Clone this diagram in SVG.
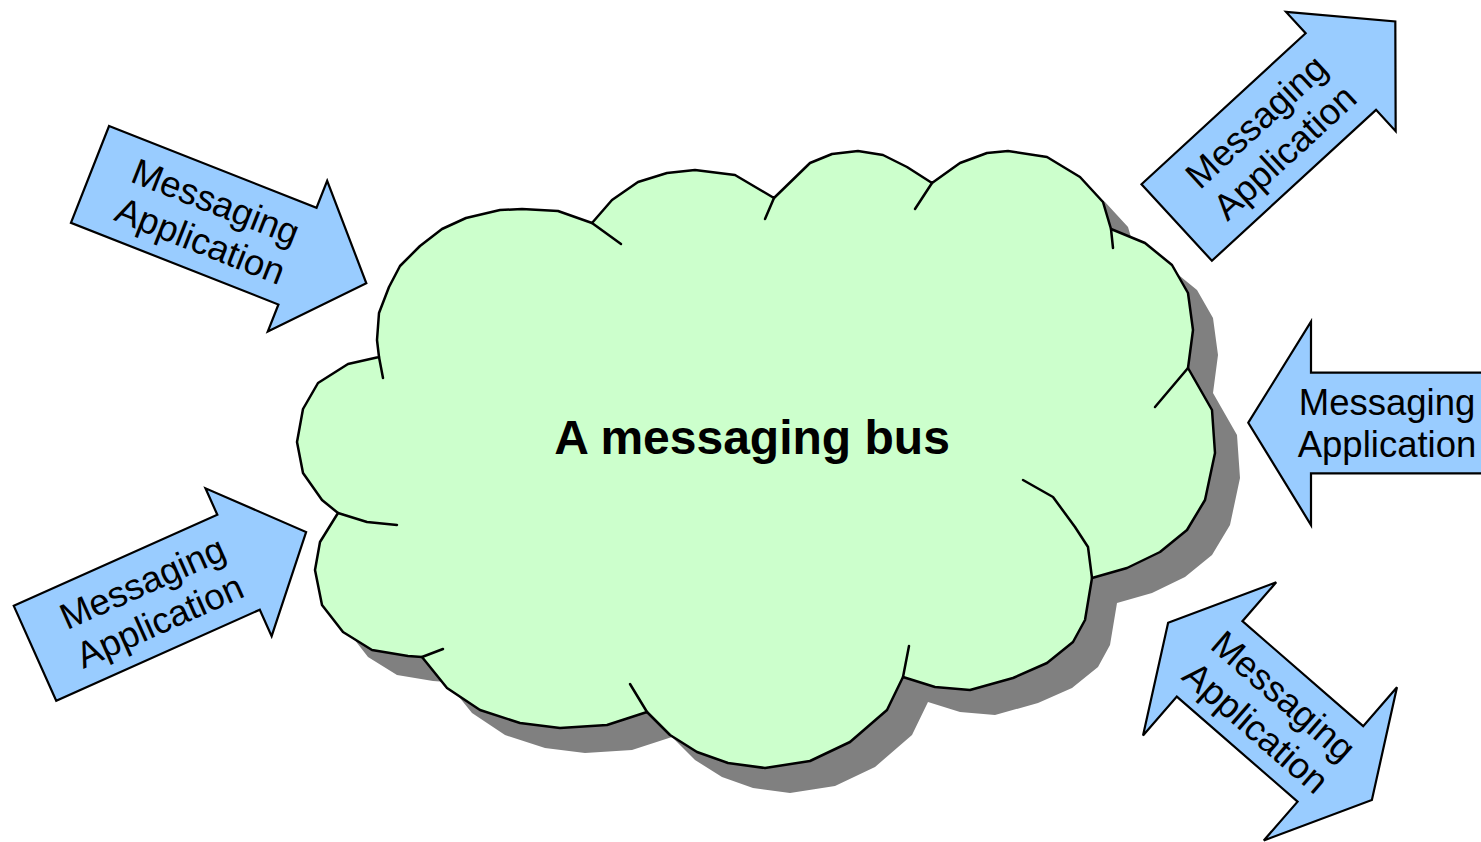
<svg xmlns="http://www.w3.org/2000/svg" xmlns:xlink="http://www.w3.org/1999/xlink" width="1481" height="842" viewBox="0 0 1481 842">
<style>
.arrow{fill:#99CCFF;stroke:#000;stroke-width:2.2;stroke-linejoin:miter}
.lbl{font-family:"Liberation Sans",Arial,sans-serif;font-size:36.5px;fill:#000;text-anchor:middle}
.cloud{fill:#CCFFCC;stroke:#000;stroke-width:2.5;stroke-linejoin:round}
.tail{fill:none;stroke:#000;stroke-width:2.5;stroke-linecap:round;stroke-linejoin:round}
.title{font-family:"Liberation Sans",Arial,sans-serif;font-size:48px;font-weight:bold;fill:#000;text-anchor:middle}
</style>
<defs>
<polygon id="sarrow" points="0,-52 223,-52 223,-81 297,0 223,81 223,52 0,52"/>
<polygon id="cloudshape" points="297,442 303,409 318,383 348,364 379,357 377,340 379,313 389,287 400,266 420,246 442,229 466,218 500,210 522,209 558,211 592,223 612,200 638,182 667,173 695,170 735,175 774,198 810,163 832,154 858,151 883,155 907,167 932,183 960,163 987,153 1008,151 1047,157 1080,177 1103,202 1111,229 1145,243 1172,265 1188,293 1193,330 1188,368 1212,410 1215,453 1205,500 1187,530 1160,552 1127,568 1092,578 1085,620 1073,642 1047,663 1013,678 970,690 935,687 903,677 887,710 850,742 810,761 765,768 728,763 697,752 670,735 647,712 607,725 560,728 520,723 480,710 447,688 422,657 408,656 372,650 343,632 322,605 315,570 320,542 338,513 322,500 303,473"/>
</defs>
<g id="bus">
<use xlink:href="#cloudshape" href="#cloudshape" transform="translate(25,25)" fill="#808080" stroke="none"/>
<use xlink:href="#cloudshape" href="#cloudshape" class="cloud"/>
<g id="cloud-tails">
<polyline class="tail" points="592,223 621,244"/>
<polyline class="tail" points="774,198 765,219"/>
<polyline class="tail" points="932,183 915,209"/>
<polyline class="tail" points="1111,229 1113,248"/>
<polyline class="tail" points="1188,368 1155,407"/>
<polyline class="tail" points="1092,578 1088,547 1075,527 1053,497 1023,480"/>
<polyline class="tail" points="903,677 909,646"/>
<polyline class="tail" points="647,712 630,684"/>
<polyline class="tail" points="422,657 443,649"/>
<polyline class="tail" points="338,513 367,522 397,525"/>
<polyline class="tail" points="379,357 383,378"/>
</g>
<text class="title" x="752" y="454">A messaging bus</text>
</g>
<g id="app1" transform="translate(90,174.4) rotate(21.5)">
<use xlink:href="#sarrow" href="#sarrow" class="arrow"/>
<text class="lbl" x="127" y="-8">Messaging</text>
<text class="lbl" x="127" y="34">Application</text>
</g>
<g id="app2" transform="translate(35,653.3) rotate(-24.1)">
<use xlink:href="#sarrow" href="#sarrow" class="arrow"/>
<text class="lbl" x="127" y="-8">Messaging</text>
<text class="lbl" x="127" y="34">Application</text>
</g>
<g id="app3" transform="translate(1176.7,222.5) rotate(-42.6)">
<use xlink:href="#sarrow" href="#sarrow" class="arrow"/>
<text class="lbl" x="127" y="-8">Messaging</text>
<text class="lbl" x="127" y="34">Application</text>
</g>
<g id="app4">
<polygon class="arrow" points="1248.3,422.7 1311,321.7 1311,372.7 1486,372.7 1486,473.3 1311,473.3 1311,525"/>
<text class="lbl" x="1387" y="415">Messaging</text>
<text class="lbl" x="1387" y="457">Application</text>
</g>
<g id="app5" transform="translate(1270,711.4) rotate(41)">
<polygon class="arrow" points="-135,0 -80,-101.5 -80,-50 80,-50 80,-101.5 135,0 80,101.5 80,50 -80,50 -80,101.5"/>
<text class="lbl" x="0" y="-8">Messaging</text>
<text class="lbl" x="0" y="34">Application</text>
</g>
<g id="connectors"></g>
</svg>
